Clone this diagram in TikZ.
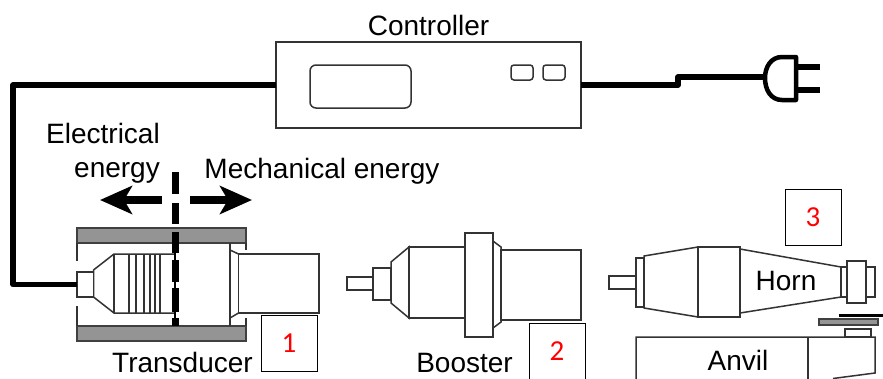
\documentclass[tikz,border=0pt]{standalone}
\usepackage{fontspec}
\setmainfont{Liberation Sans}
\newfontfamily\numfont{Carlito}
\usetikzlibrary{arrows.meta, positioning}

\begin{document}
\begin{tikzpicture}[ x = 1pt
                     , y = -1pt
                     , part/.style = { draw = black!80, line width = 1.5pt, fill = white }
                     , wire/.style = { draw = black, line width = 5.5pt, line join = round }
                     , bar/.style = { draw = black!75, line width = 1.5pt, fill = black!42 }
                     , partbox/.style = { rectangle, draw = black!80, line width = 1.5pt, fill = white
                                        , inner sep = 0pt, outer sep = 0pt }
                     , numbox/.style = { rectangle, draw = black, line width = 1pt, fill = white
                                       , minimum size = 56pt, inner sep = 0pt
                                       , text = red, font = \numfont\fontsize{29}{29}\selectfont }
                     , caption/.style = { inner sep = 0pt, anchor = base
                                        , font = \fontsize{28}{34}\selectfont }
                     , flow/.style = { line width = 8pt, -{Stealth[length = 32pt, width = 28pt, inset = 8pt]} }
                     ]

  \path[use as bounding box, clip] (0,0) rectangle (883,378);

  % controller and mains plug
  \node (ctrl) [partbox, minimum width = 305pt, minimum height = 86pt] at (428.5,85) {};
  \node (display) [partbox, rounded corners = 6pt, minimum width = 101pt, minimum height = 43pt] at (360.5,86.5) {};
  \node (btnleft) [partbox, rounded corners = 3pt, minimum width = 22pt, minimum height = 15pt] at (522,72.5) {};
  \node (btnright) [partbox, rounded corners = 3pt, minimum width = 22pt, minimum height = 15pt] at (554,72.5) {};
  \node (ctrllabel) [caption] at (428.5,35) {Controller};

  \coordinate (stepa) at (678,85);
  \coordinate (stepb) at (678,77);
  \coordinate (plugface) at (765,77);
  \draw[wire] (ctrl.east) -- (stepa) -- (stepb) -- (plugface);
  \draw[draw = black, line width = 4.5pt, line join = round]
    (796,57) -- (782,57) .. controls (771,57) and (765,67) .. (765,78)
    .. controls (765,90) and (771,100) .. (782,100) -- (796,100) -- cycle;
  \draw[line width = 6.5pt] (796,67) -- (820,67);
  \draw[line width = 6.5pt] (796,90) -- (820,90);

  % transducer
  \draw[bar] (77,228) rectangle (246,243);
  \draw[bar] (77,326) rectangle (246,341);
  \draw[part] (77,243) -- (77,261);
  \draw[part] (77,306) -- (77,326);
  \draw[part] (246,243) -- (246,250);
  \draw[part] (246,318) -- (246,326);
  \draw[part] (175,254) -- (114,254) -- (93.5,270) -- (93.5,297) -- (114,313) -- (175,313);
  \draw[part] (114,254) -- (114,313);
  \foreach \finx in {129,136,144,150,155,160}
    \draw[part] (\finx,254) -- (\finx,313);
  \node (tplug) [partbox, minimum width = 16.5pt, minimum height = 25pt] at (85.25,284.5) {};
  \draw[part] (230,243) -- (230,326);
  \draw[part] (230,250) -- (238.5,254) (230,318) -- (238.5,313);
  \node (tbody) [partbox, minimum width = 80.5pt, minimum height = 59pt] at (278.75,283.5) {};

  \coordinate (wirelow) at (13,284.5);
  \coordinate (wirehigh) at (13,85);
  \draw[wire] (tplug.west) -- (wirelow) -- (wirehigh) -- (ctrl.west);

  % energy boundary
  \draw[line width = 1.5pt] (175,253) -- (175,318);
  \foreach \dasha/\dashb in {172/194,203/224,232/253,260/282,288/312,318/326}
    \draw[line width = 7pt] (175,\dasha) -- (175,\dashb);
  \coordinate (flowleftstart) at (162,200);
  \coordinate (flowlefttip) at (100,200);
  \coordinate (flowrightstart) at (190,200);
  \coordinate (flowrighttip) at (252,200);
  \draw[flow] (flowleftstart) -- (flowlefttip);
  \draw[flow] (flowrightstart) -- (flowrighttip);

  \node (elec) [caption, anchor = base east, align = right] at (160,177) {Electrical\\energy};
  \node (mech) [caption] at (322,178) {Mechanical energy};
  \node (tlabel) [caption] at (182.5,372) {Transducer};
  \node (one) [numbox] at (289,343) {1};

  % booster
  \node (bpin) [partbox, minimum width = 26pt, minimum height = 13pt] at (360,283.5) {};
  \node (bneck) [partbox, minimum width = 18pt, minimum height = 32pt] at (382,284) {};
  \draw[part] (391,262) -- (409,247) -- (409,318) -- (391,303) -- cycle;
  \node (bbody) [partbox, minimum width = 56pt, minimum height = 71pt] at (437,282.5) {};
  \draw[part] (493,241) -- (501,247) -- (501,322) -- (493,328) -- cycle;
  \node (bflange) [partbox, minimum width = 28pt, minimum height = 104pt] at (479,285) {};
  \node (bend) [partbox, minimum width = 80pt, minimum height = 70pt] at (541,285) {};
  \node (blabel) [caption] at (464.5,372) {Booster};
  \node (two) [numbox] at (557,351) {2};

  % horn and anvil
  \node (hpin) [partbox, minimum width = 27pt, minimum height = 13pt] at (622.5,282.5) {};
  \node (hneck) [partbox, minimum width = 8pt, minimum height = 49pt] at (640,282.5) {};
  \draw[part] (644,256) -- (698,247) -- (698,317) -- (644,308) -- cycle;
  \node (hbody) [partbox, minimum width = 42pt, minimum height = 70pt] at (719,282) {};
  \draw[part] (740,249) -- (841,267) -- (841,297) -- (740,313) -- cycle;
  \node (hcollar) [partbox, minimum width = 6pt, minimum height = 30pt] at (844,282) {};
  \node (hend) [partbox, minimum width = 9pt, minimum height = 30pt] at (870.5,282) {};
  \node (htip) [partbox, minimum width = 19pt, minimum height = 42pt] at (856.5,282) {};
  \node (hlabel) [caption] at (786,290) {Horn};
  \node (three) [numbox] at (813,217) {3};

  \draw[line width = 3pt] (839,315) -- (883,315);
  \draw[bar] (819,319) rectangle (878,325);
  \node (stud) [partbox, minimum width = 26pt, minimum height = 8pt] at (858,333) {};
  \draw[part] (636,390) -- (636,337) -- (875,337) -- (875,373) -- (833,378.5);
  \draw[part] (808,337) -- (808,390);
  \node (alabel) [caption] at (738,370) {Anvil};

  \end{tikzpicture}
\end{document}
